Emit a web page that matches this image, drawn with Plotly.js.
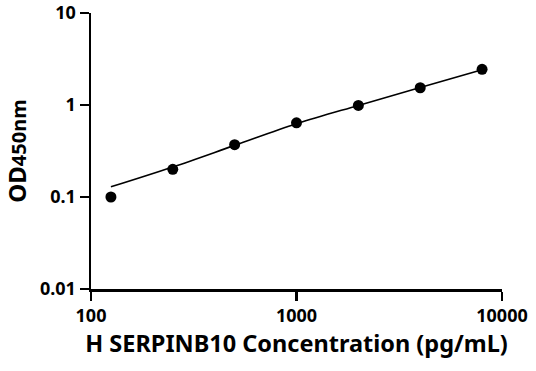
<!DOCTYPE html>
<html>
<head>
<meta charset="utf-8">
<script src="https://cdn.plot.ly/plotly-3.0.1.min.js"></script>
<style>html,body{margin:0;padding:0;background:#fff;}#chart{width:536px;height:371px;}</style>
</head>
<body>
<div id="chart"></div>
<script>
const concentrations = [125, 250, 500, 1000, 2000, 4000, 8000];
const odValues = [0.10, 0.20, 0.37, 0.64, 0.99, 1.54, 2.44];
const fitValues = [0.129, 0.212, 0.364, 0.625, 0.99, 1.55, 2.42];
const xTickVals = [100, 1000, 10000];
const xTickText = ["100", "1000", "10000"];
const yTickVals = [0.01, 0.1, 1, 10];
const yTickText = ["0.01", "0.1", "1", "10"];

const fontFam = "'Noto Sans', 'Open Sans', Arial, sans-serif";

const traces = [
  {
    x: concentrations, y: fitValues, type: 'scatter', mode: 'lines',
    line: {color: '#000', width: 1.6, shape: 'spline'}, hoverinfo: 'skip', showlegend: false
  },
  {
    x: concentrations, y: odValues, type: 'scatter', mode: 'markers',
    marker: {color: '#000', size: 11}, showlegend: false
  }
];

const layout = {
  width: 536, height: 371,
  margin: {l: 91, r: 34, t: 13, b: 82},
  paper_bgcolor: '#fff', plot_bgcolor: '#fff',
  font: {family: fontFam, color: '#000', size: 17, weight: 700},
  xaxis: {
    type: 'log', range: [2, 4], tickvals: xTickVals, ticktext: xTickText,
    showgrid: false, zeroline: false, showline: true, linecolor: '#000', linewidth: 2.5,
    ticks: 'outside', ticklen: 9, tickwidth: 2.5, tickcolor: '#000',
    tickfont: {family: fontFam, size: 18, weight: 700, color: '#000'},
    title: {text: '<b>H SERPINB10 Concentration (pg/mL)</b>', font: {family: fontFam, size: 23.5, weight: 700, color: '#000'}, standoff: 8},
    automargin: false
  },
  yaxis: {
    type: 'log', range: [-2, 1], tickvals: yTickVals, ticktext: yTickText,
    showgrid: false, zeroline: false, showline: true, linecolor: '#000', linewidth: 2.5,
    ticks: 'outside', ticklen: 9, tickwidth: 2.5, tickcolor: '#000',
    tickfont: {family: fontFam, size: 18, weight: 700, color: '#000'},
    title: {text: '<b>OD<span style="font-size:20px">450nm</span></b>', font: {family: fontFam, size: 24, weight: 700, color: '#000'}, standoff: 10},
    automargin: false
  }
};

Plotly.newPlot('chart', traces, layout, {displayModeBar: false, staticPlot: true});
</script>
</body>
</html>
